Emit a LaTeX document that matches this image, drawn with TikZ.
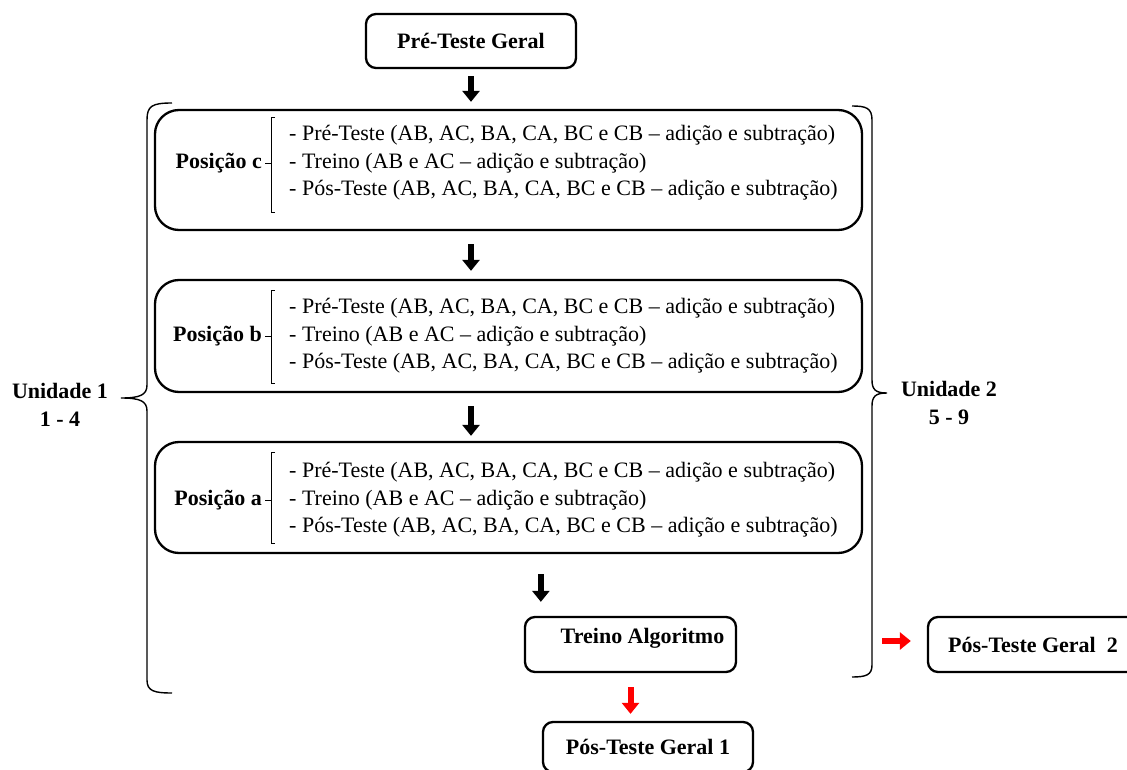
\documentclass[tikz,border=0pt]{standalone}
\usepackage{fontspec}
\setmainfont{Liberation Serif}
\usetikzlibrary{arrows.meta,positioning}
\tikzstyle{caixa}=[draw,line width=2.3pt,rounded corners=10pt,inner sep=0pt,
font=\fontsize{22}{27.5}\selectfont\bfseries]
\tikzstyle{etapa}=[caixa,rounded corners=24pt,minimum width=707pt]
\tikzstyle{rotulo}=[inner sep=0pt,font=\fontsize{22}{27.5}\selectfont\bfseries]
\tikzstyle{lista}=[inner sep=0pt,align=left,font=\fontsize{22}{27.5}\selectfont]
\tikzstyle{seta}=[line width=6pt,-{Triangle[width=17pt,length=11pt]}]
\tikzstyle{setav}=[seta,red,line width=6pt]
\tikzstyle{chave}=[line width=1.4pt]
\tikzstyle{colch}=[line width=0.8pt]
\newcommand{\itens}{- Pré-Teste (AB, AC, BA, CA, BC e CB – adição e subtração)\\
- Treino (AB e AC – adição e subtração)\\
- Pós-Teste (AB, AC, BA, CA, BC e CB – adição e subtração)}

\begin{document}
\begin{tikzpicture}[x=1pt,y=-1pt]
  \useasboundingbox (0,0) rectangle (1127,770);
  \clip (0,0) rectangle (1127,770);

  \node[caixa,minimum width=210pt,minimum height=54pt] (pre) at (471,41) {Pré-Teste Geral};

  % as tres posicoes
  \node[etapa,minimum height=120pt] (c) at (508.5,170) {};
  \node[etapa,minimum height=112pt] (b) at (508.5,336) {};
  \node[etapa,minimum height=111pt] (a) at (508.5,497.5) {};
  \foreach \p/\m/\t/\u in {c/163/117/212,b/336/290/383,a/500/452/543}{
    \node[rotulo,anchor=east] (lab\p) at (262,\m) {Posição \p};
    \node[lista,anchor=west] (lst\p) at (289,\m) {\itens};
    \draw[colch] (275,\t) -- (271,\t) -- (271,\u) -- (275,\u) (271,\m) -- (265,\m);
  }

  \node[caixa,minimum width=211pt,minimum height=55pt,
    label={[rotulo,xshift=12pt,yshift=6.5pt]center:Treino Algoritmo}] (ta) at (630.5,644.5) {};
  \node[caixa,minimum width=210pt,minimum height=50pt] (pg1) at (648,747) {Pós-Teste Geral 1};
  \node[caixa,minimum width=210pt,minimum height=55pt] (pg2) at (1033,644.5) {Pós-Teste Geral\ \ 2};

  % chaves
  \draw[chave] (172,103) .. controls (152,103) and (147,106) .. (147,120) -- (147,385)
    .. controls (147,395) and (140,398) .. (121,398)
    .. controls (140,398) and (147,401) .. (147,411) -- (147,680)
    .. controls (147,691) and (154,693) .. (172,693);
  \draw[chave] (852,106) .. controls (866,106) and (872,108) .. (872,120) -- (872,380)
    .. controls (872,390) and (876,393) .. (887,393)
    .. controls (876,393) and (872,396) .. (872,406) -- (872,665)
    .. controls (872,675) and (866,677) .. (852,677);
  \node[rotulo,align=center] (u1) at (60,405) {Unidade 1\\1 - 4};
  \node[rotulo,align=center] (u2) at (949,403) {Unidade 2\\5 - 9};

  % setas
  \coordinate (ta4) at ([xshift=17pt]ta.north west);
  \coordinate (rb) at (872,641);
  \draw[seta,shorten <=7pt,shorten >=7pt] (pre.south) -- (pre.south |- c.north);
  \draw[seta,shorten <=13pt,shorten >=8pt] (c.south -| pre) -- (b.north -| pre);
  \draw[seta,shorten <=13pt,shorten >=5pt] (b.south -| pre) -- (a.north -| pre);
  \draw[seta,shorten <=20pt,shorten >=14pt] (a.south -| ta4) -- (ta4);
  \draw[setav,shorten <=14pt,shorten >=7pt] (ta.south) -- (ta.south |- pg1.north);
  \draw[setav,shorten <=10pt,shorten >=16pt] (rb) -- (rb -| pg2.west);
\end{tikzpicture}
\end{document}
